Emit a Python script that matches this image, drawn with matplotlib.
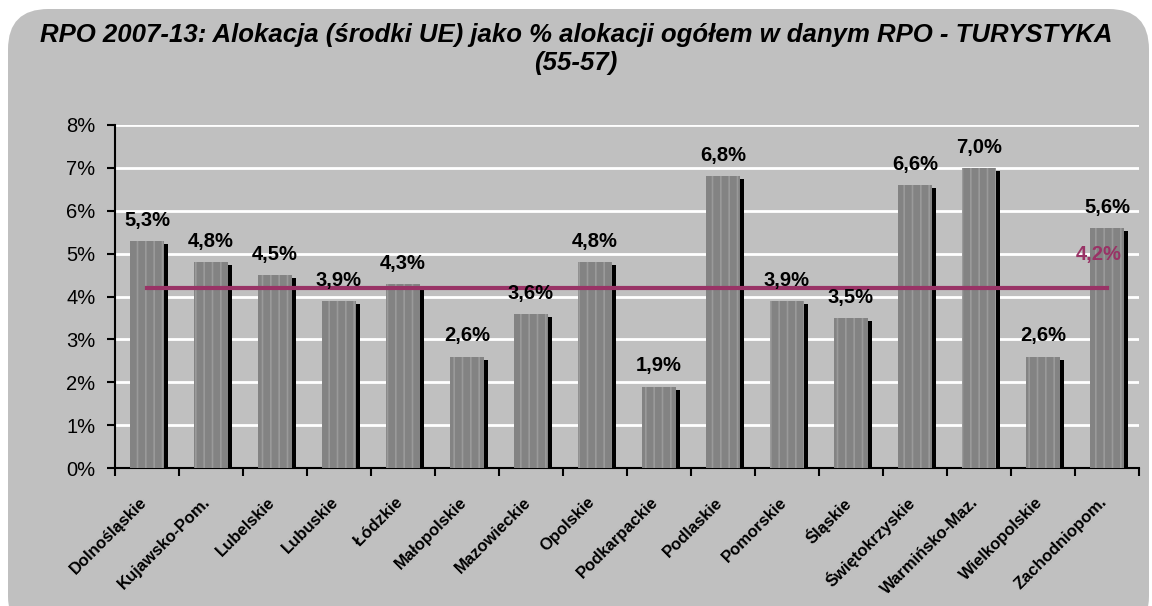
import matplotlib.pyplot as plt
from matplotlib.patches import FancyBboxPatch
from matplotlib.ticker import FuncFormatter

# Dane
regiony = ['Dolnośląskie', 'Kujawsko-Pom.', 'Lubelskie', 'Lubuskie', 'Łódzkie',
           'Małopolskie', 'Mazowieckie', 'Opolskie', 'Podkarpackie', 'Podlaskie',
           'Pomorskie', 'Śląskie', 'Świętokrzyskie', 'Warmińsko-Maz.',
           'Wielkopolskie', 'Zachodniopom.']
udzial = [5.3, 4.8, 4.5, 3.9, 4.3, 2.6, 3.6, 4.8, 1.9, 6.8, 3.9, 3.5, 6.6, 7.0, 2.6, 5.6]
srednia = 4.2

plt.rcParams['font.family'] = ['Liberation Sans', 'DejaVu Sans']
plt.rcParams['hatch.linewidth'] = 1.2

fig = plt.figure(figsize=(11.52, 6.06), dpi=100, facecolor='white')

# Szare tło z zaokrąglonymi rogami
panel = FancyBboxPatch((8 / 1152, -0.05), 1141 / 1152, 1.05 - 9 / 606,
                       boxstyle='round,pad=0,rounding_size=0.035',
                       transform=fig.transFigure, facecolor='#c0c0c0',
                       edgecolor='none', mutation_aspect=1152 / 606, zorder=-1)
fig.patches.append(panel)

ax = fig.add_axes([115 / 1152, 138 / 606, 1024 / 1152, 343 / 606])
ax.set_facecolor('#c0c0c0')

x = list(range(len(regiony)))

# Cień słupków
ax.bar([i + 0.07 for i in x], [v - 0.07 for v in udzial], width=0.53,
       color='black', zorder=2)
# Słupki
bars = ax.bar(x, udzial, width=0.53, color='#838383', edgecolor='#9a9a9a',
              hatch='||', linewidth=0, zorder=3)

# Etykiety nad słupkami
for bar, v in zip(bars, udzial):
    ax.annotate(f'{v:.1f}%'.replace('.', ','),
                (bar.get_x() + bar.get_width() / 2, v),
                xytext=(0, 8), textcoords='offset points',
                ha='center', va='bottom', fontsize=14.5, fontweight='bold', zorder=5)

# Linia średniej
ax.plot([x[0], x[-1]], [srednia, srednia], color='#993366', linewidth=3, zorder=4)
ax.annotate(f'{srednia:.1f}%'.replace('.', ','), (x[-1], srednia),
            xytext=(-6, 17), textcoords='offset points', ha='center', va='bottom',
            fontsize=14.5, fontweight='bold', color='#993366', zorder=5)

ax.set_xlim(-0.5, len(regiony) - 0.5)
ax.set_ylim(0, 8)
ax.set_yticks(range(0, 9))
ax.yaxis.set_major_formatter(FuncFormatter(lambda v, p: f'{int(v)}%'))
ax.grid(axis='y', color='white', linewidth=2, zorder=1)
ax.set_axisbelow(True)

# Znaczniki między kategoriami
ax.set_xticks([i - 0.5 for i in range(len(regiony) + 1)])
ax.set_xticklabels([])
ax.tick_params(axis='x', which='major', length=6, width=1.5, direction='out')
ax.tick_params(axis='y', length=6, width=1.5, labelsize=14.5, pad=8)

# Nazwy województw pod kątem 45°
for i, nazwa in zip(x, regiony):
    ax.annotate(nazwa, (i, 0), xycoords=ax.get_xaxis_transform(),
                xytext=(-2, -23), textcoords='offset points',
                rotation=45, rotation_mode='anchor', ha='right', va='center',
                fontsize=12, fontweight='bold', annotation_clip=False)

ax.spines['top'].set_visible(False)
ax.spines['right'].set_visible(False)
ax.spines['left'].set_linewidth(1.5)
ax.spines['bottom'].set_linewidth(1.5)

fig.text(0.5, 1 - 35 / 606, 'RPO 2007-13: Alokacja (środki UE) jako % alokacji ogółem w danym RPO - TURYSTYKA',
         ha='center', va='center', fontsize=18.5, fontweight='bold', style='italic')
fig.text(0.5, 1 - 63 / 606, '(55-57)', ha='center', va='center',
         fontsize=18.5, fontweight='bold', style='italic')

plt.savefig('out.png', dpi=100, facecolor='white')
plt.close()
